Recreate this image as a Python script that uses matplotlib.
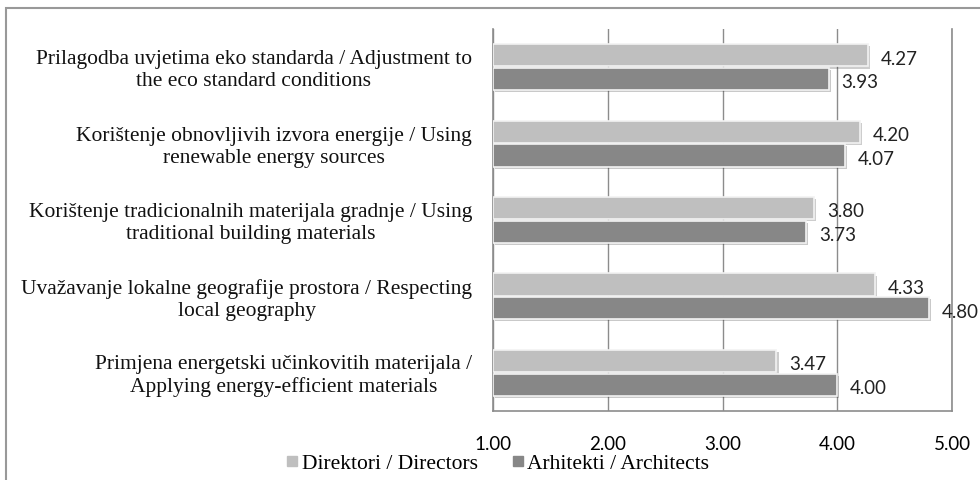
import matplotlib
matplotlib.use("Agg")
import matplotlib.pyplot as plt
import numpy as np
from matplotlib.lines import Line2D
from matplotlib.patches import Rectangle
import matplotlib.patheffects as pe

categories = [
    "Prilagodba uvjetima eko standarda / Adjustment to\nthe eco standard conditions",
    "Korištenje obnovljivih izvora energije / Using\nrenewable energy sources",
    "Korištenje tradicionalnih materijala gradnje / Using\ntraditional building materials",
    "Uvažavanje lokalne geografije prostora / Respecting\nlocal geography",
    "Primjena energetski učinkovitih materijala /\nApplying energy-efficient materials",
]
directors = [4.27, 4.20, 3.80, 4.33, 3.47]
architects = [3.93, 4.07, 3.73, 4.80, 4.00]
ticks = [1.0, 2.0, 3.0, 4.0, 5.0]

W, H = 980, 481
fig = plt.figure(figsize=(W / 100, H / 100), dpi=100)
ax = fig.add_axes([493 / W, (H - 412) / H, (952 - 493) / W, (412 - 30) / H])

y = np.arange(len(categories))
h = 0.29
off = 0.155
shadow = [pe.SimplePatchShadow(offset=(1.5, -1.5), alpha=0.25), pe.Normal()]

ax.barh(y - off, [v - 1 for v in directors], h, left=1, color="#bfbfbf",
        edgecolor="#f2f2f2", linewidth=1.2, zorder=3, path_effects=shadow)
ax.barh(y + off, [v - 1 for v in architects], h, left=1, color="#878787",
        edgecolor="#f2f2f2", linewidth=1.2, zorder=3, path_effects=shadow)

for i in range(len(categories)):
    ax.annotate("%.2f" % directors[i], (directors[i], y[i] - off), xytext=(9, -2),
                textcoords="offset points", va="center", ha="left",
                fontsize=13.5, family="Lato", color="#222222")
    ax.annotate("%.2f" % architects[i], (architects[i], y[i] + off), xytext=(9, -2),
                textcoords="offset points", va="center", ha="left",
                fontsize=13.5, family="Lato", color="#222222")

ax.set_xlim(1, 5)
ax.set_ylim(len(categories) - 0.5, -0.5)
ax.set_xticks(ticks)
ax.set_xticklabels(["%.2f" % t for t in ticks], family="Lato", fontsize=13.5)
ax.tick_params(axis="x", length=0, pad=17)
ax.set_yticks(y)
ax.set_yticklabels([])
ax.tick_params(axis="y", length=0)
ax.xaxis.grid(True, color="#8c8c8c", linewidth=1.0, zorder=0)
ax.set_axisbelow(True)
for s in ["left", "right", "bottom"]:
    ax.spines[s].set_color("#8c8c8c")
    ax.spines[s].set_linewidth(1.2)
ax.spines["top"].set_visible(False)

# category labels: each block right-aligned, lines centred within it
for i, c in enumerate(categories):
    yy = ax.transData.transform((1, y[i]))[1] - 2.5
    fig.text(472 / W, yy / fig.dpi / fig.get_figheight(), c, ha="right", va="center",
             multialignment="center", family="Liberation Serif", fontsize=15.5,
             linespacing=1.22, color="#111111")

handles = [Line2D([], [], marker="s", linestyle="none", markersize=7, color="#bfbfbf"),
           Line2D([], [], marker="s", linestyle="none", markersize=7, color="#878787")]
fig.legend(handles, ["Direktori / Directors", "Arhitekti / Architects"],
           loc="center", bbox_to_anchor=(497 / W, 1 - 464 / H), ncol=2, frameon=False,
           prop={"family": "Liberation Serif", "size": 15.5},
           handletextpad=0.1, columnspacing=1.5, handlelength=0.7)

fig.add_artist(Rectangle((6 / W, -0.1), 2, 1.1 - 9 / H, transform=fig.transFigure,
                         fill=False, edgecolor="#999999", linewidth=1.5))

fig.savefig("out.png", dpi=100)
